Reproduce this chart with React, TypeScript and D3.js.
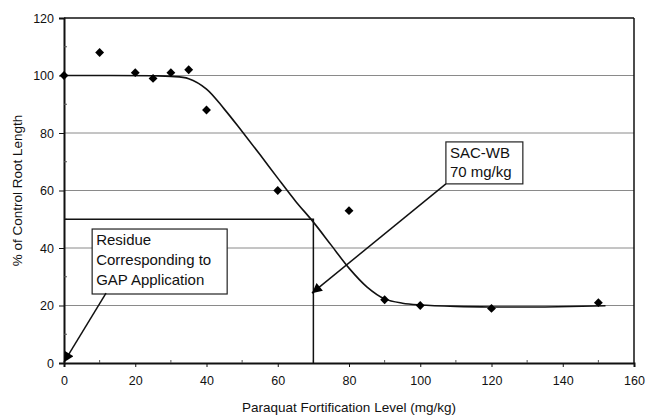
import React, { useEffect, useRef } from 'react';
import * as d3 from 'd3';

// measured points (paraquat level mg/kg vs % of control root length)
const conc = [0, 10, 20, 25, 30, 35, 40, 60, 80, 90, 100, 120, 150];
const rootPct = [100, 108, 101, 99, 101, 102, 88, 60, 53, 22, 20, 19, 21];

// fitted dose-response curve
const fitX = [0, 25, 30, 35, 40, 45, 50, 55, 60, 65, 70, 75, 80, 85, 90, 95, 100, 110, 120, 135, 152];
const fitY = [100, 99.9, 99.7, 98.9, 95.3, 88.3, 80.5, 72.5, 64.3, 56.3, 49, 41, 33, 26.5, 22.3, 20.8, 20.2, 19.7, 19.5, 19.5, 19.9];

const xTicks = [0, 20, 40, 60, 80, 100, 120, 140, 160];
const yTicks = [0, 20, 40, 60, 80, 100, 120];

const sacLevel = 70;
const sacPct = 50;

const W = 647, H = 416;

const App = () => {
  const ref = useRef<SVGSVGElement>(null);

  useEffect(() => {
    const svg = d3.select(ref.current);
    svg.selectAll('*').remove();

    const x = d3.scaleLinear().domain([0, 160]).range([64, 634]);
    const y = d3.scaleLinear().domain([0, 120]).range([363, 18]);
    const font = 'Liberation Sans, Arial, sans-serif';

    const defs = svg.append('defs');
    defs.append('marker')
      .attr('id', 'arr')
      .attr('viewBox', '0 0 10 10')
      .attr('refX', 10).attr('refY', 5)
      .attr('markerWidth', 15).attr('markerHeight', 10)
      .attr('markerUnits', 'userSpaceOnUse')
      .attr('orient', 'auto')
      .append('path').attr('d', 'M0,0L10,5L0,10Z').attr('fill', '#000');

    // gridlines
    svg.append('g').selectAll('line')
      .data(yTicks.filter(d => d > 0 && d < 120))
      .enter().append('line')
      .attr('x1', x(0)).attr('x2', x(160))
      .attr('y1', d => y(d)).attr('y2', d => y(d))
      .attr('stroke', '#8a8a8a').attr('stroke-width', 1);

    // frame
    svg.append('line').attr('x1', x(0)).attr('x2', x(160)).attr('y1', y(120)).attr('y2', y(120))
      .attr('stroke', '#111').attr('stroke-width', 1.5);
    svg.append('line').attr('x1', x(160)).attr('x2', x(160)).attr('y1', y(120)).attr('y2', y(0))
      .attr('stroke', '#111').attr('stroke-width', 1.5);

    // axes
    const xAxis = svg.append('g').attr('transform', `translate(0,${y(0)})`)
      .call(d3.axisBottom(x).tickValues(xTicks).tickSize(4).tickPadding(9));
    const yAxis = svg.append('g').attr('transform', `translate(${x(0)},0)`)
      .call(d3.axisLeft(y).tickValues(yTicks).tickSize(5).tickPadding(5));
    [xAxis, yAxis].forEach(a => {
      a.select('.domain').attr('stroke', '#111').attr('stroke-width', 2);
      a.selectAll('line').attr('stroke', '#111');
      a.selectAll('text').attr('font-family', font).attr('font-size', 12.5).attr('fill', '#111');
    });
    // minor ticks
    svg.append('g').selectAll('line').data(d3.range(10, 160, 20)).enter().append('line')
      .attr('x1', d => x(d)).attr('x2', d => x(d)).attr('y1', y(0)).attr('y2', y(0) - 3)
      .attr('stroke', '#555');
    svg.append('g').selectAll('line').data(d3.range(10, 120, 20)).enter().append('line')
      .attr('x1', x(0)).attr('x2', x(0) + 3).attr('y1', d => y(d)).attr('y2', d => y(d))
      .attr('stroke', '#555');

    // SAC-WB guide lines
    svg.append('path')
      .attr('d', `M${x(0)},${y(sacPct)}H${x(sacLevel)}V${y(0)}`)
      .attr('fill', 'none').attr('stroke', '#111').attr('stroke-width', 1.5);

    // fitted curve
    const line = d3.line<number>().x((d, i) => x(fitX[i])).y(d => y(d)).curve(d3.curveCatmullRom.alpha(0.5));
    svg.append('path').attr('d', line(fitY))
      .attr('fill', 'none').attr('stroke', '#111').attr('stroke-width', 1.6);

    // points
    svg.append('g').selectAll('path').data(conc).enter().append('path')
      .attr('d', d3.symbol(d3.symbolDiamond2, 50)())
      .attr('transform', (d, i) => `translate(${x(d)},${y(rootPct[i])})`)
      .attr('fill', '#000');

    // annotations
    const note = (bx0: number, bx1: number, by0: number, by1: number, lines: string[], lineH: number) => {
      const g = svg.append('g');
      g.append('rect')
        .attr('x', x(bx0)).attr('y', y(by0))
        .attr('width', x(bx1) - x(bx0)).attr('height', y(by1) - y(by0))
        .attr('fill', '#fff').attr('stroke', '#222').attr('stroke-width', 1.2);
      lines.forEach((t, i) => {
        g.append('text').attr('x', x(bx0) + 4).attr('y', y(by0) + 16 + i * lineH)
          .attr('font-family', font).attr('font-size', 15).attr('fill', '#111').text(t);
      });
    };
    const arrow = (x0: number, y0: number, x1: number, y1: number) => {
      svg.append('line')
        .attr('x1', x(x0)).attr('y1', y(y0)).attr('x2', x(x1)).attr('y2', y(y1))
        .attr('stroke', '#111').attr('stroke-width', 1.5).attr('marker-end', 'url(#arr)');
    };
    note(7.9, 45.8, 46.6, 24, ['Residue', 'Corresponding to', 'GAP Application'], 20);
    arrow(11.8, 24.3, 0, 0.3);
    note(107.2, 128.8, 76.9, 62.3, ['SAC-WB', '70 mg/kg'], 19);
    arrow(107.2, 62.3, 69.6, 24.3);

    // axis titles
    svg.append('text').attr('x', (x(0) + x(160)) / 2).attr('y', 412)
      .attr('text-anchor', 'middle').attr('font-family', font).attr('font-size', 13.5).attr('fill', '#111')
      .text('Paraquat Fortification Level (mg/kg)');
    svg.append('text').attr('transform', `translate(22,${(y(0) + y(120)) / 2}) rotate(-90)`)
      .attr('text-anchor', 'middle').attr('font-family', font).attr('font-size', 13.5).attr('fill', '#111')
      .text('% of Control Root Length');
  }, []);

  return (
    <div style={{ position: 'absolute', left: 0, top: 0 }}>
      <svg ref={ref} width={W} height={H} style={{ display: 'block', background: '#fff' }} />
    </div>
  );
};

export default App;
